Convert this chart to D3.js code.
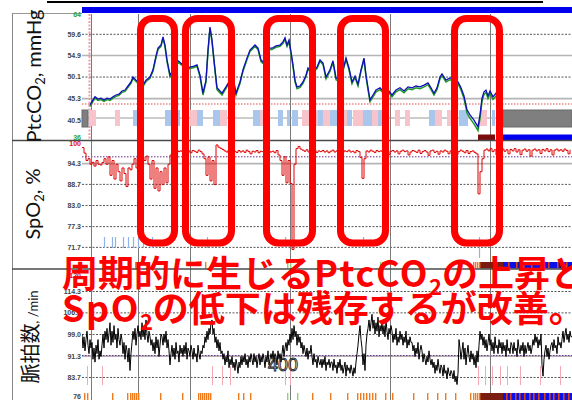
<!DOCTYPE html>
<html><head><meta charset="utf-8">
<script src="https://cdn.jsdelivr.net/npm/d3@7"></script>
<style>body{margin:0;background:#fff}svg{display:block}</style>
</head><body>
<svg id="chart" width="572" height="400"></svg>
<script>
// ---------- recorded data (time in minutes from start of trace) ----------
const ptcTime = [8,11,13,16,19,22,25,28,31,34,37,40,43,46,49,51,54,57,61,64,68,71,74,76,79,81,83,85,88,92,96,100,104,108,112,115,118,121,124,126,128,130,132,135,140,144,148,151,154,158,161,165,168,173,176,179,181,183,186,190,194,198,201,203,205,207,209,211,213,215,218,221,224,226,230,235,238,241,244,248,251,254,258,261,264,267,270,273,276,279,282,284,286,288,291,294,298,302,306,310,314,318,322,326,330,334,338,342,346,349,352,355,358,360,364,368,372,376,379,382,385,388,392,396,398,400,402,404,406,408,411,414,418];
const ptcBlue = [43.8,44.9,45.6,45.1,45.3,44.9,45.3,45.1,45.6,46.0,46.2,46.9,47.1,48.0,48.9,50.0,49.3,48.7,48.2,49.3,50.0,51.6,54.7,56.4,57.1,58.9,57.1,53.8,50.4,52.0,53.6,52.9,52.0,52.2,52.4,52.7,50.4,46.4,49.3,56.0,61.1,58.2,53.8,47.6,46.4,47.8,49.3,50.0,46.4,48.9,51.6,54.2,56.0,57.1,56.4,53.8,53.3,54.9,56.4,56.4,56.9,57.1,57.8,58.7,57.1,58.2,55.6,52.7,49.3,47.8,48.0,48.9,50.4,52.0,51.1,52.2,53.8,53.1,50.0,51.6,53.6,49.8,49.3,51.6,54.2,52.0,48.9,50.2,48.4,51.6,54.2,50.4,47.6,44.9,46.0,47.1,47.6,46.7,47.1,46.0,47.1,47.6,46.9,47.8,47.6,48.0,47.8,48.2,48.7,47.6,46.4,47.6,50.0,50.7,49.3,49.8,49.6,48.9,47.6,45.8,42.7,41.6,40.4,38.9,41.6,45.3,46.7,47.1,45.8,46.9,45.6,46.4,45.8];
const ptcGreen = [43.5,44.6,45.3,44.8,45.0,44.6,45.0,44.8,45.3,45.7,45.9,46.6,46.8,47.7,48.6,49.7,49.0,48.4,47.9,49.0,49.7,51.3,54.3,56.1,56.8,58.6,56.7,53.4,50.1,51.7,53.3,52.6,51.7,51.9,52.1,52.4,50.1,46.0,48.9,55.6,60.8,57.8,53.4,47.2,46.0,47.5,49.0,49.7,46.0,48.6,51.3,53.9,55.7,56.8,56.1,53.4,53.0,54.6,56.1,56.1,56.6,56.8,57.5,58.4,56.8,57.9,55.2,52.3,48.9,47.4,47.7,48.6,50.1,51.7,50.8,51.9,53.5,52.8,49.6,51.3,53.3,49.4,48.9,51.3,53.9,51.6,48.5,49.9,48.0,51.3,53.9,50.0,47.2,44.5,45.6,46.7,47.2,46.3,46.7,45.6,46.7,47.2,46.5,47.4,47.2,47.6,47.4,47.8,48.3,47.2,46.0,47.2,49.6,50.3,48.9,49.4,49.2,48.5,47.1,45.2,42.0,40.8,39.6,38.1,40.8,44.6,46.1,46.6,45.2,46.3,45.0,45.8,45.2];

const spo2Step = 2;   // minutes between SpO2 samples
const spo2Values = [
  98.5,97,95,95.5,94,94.5,93.5,95,94,93.8,
  94.5,95.5,94,96,91,95,90,94,92,89.5,
  93,91.5,88,93,92.5,94,95.5,93,96.5,95.5,
  96,95,96.2,94,90,95,87.5,93,86.8,92,
  88.5,93,89,94,96.5,97.5,97.2,97.8,97.4,97.6,
  97.3,97.8,97.4,97.6,97.1,97.7,97.5,97.2,97.8,97.4,
  96.8,95.5,91,96,89.5,95,88.5,99.2,98.6,98.3,
  98,97.6,97.3,97.8,97.4,96.9,97.5,97.2,97.7,97.3,
  97.6,97.2,97.8,97.4,96.8,97.5,97.3,97.7,97.1,97.5,
  97.4,97.8,97.2,97.6,97.3,97.5,97.1,97.7,96.5,95,
  91,96,89,95,88.8,71,94,98.2,98.8,98.1,
  97.8,97.5,97.9,97.3,97.7,97.4,97.8,97.2,97.6,97.4,
  97.7,97.3,97.6,97.1,97.5,97.8,97.3,97.6,97.4,97.7,
  97.2,97.6,97.4,97.8,97.3,97.5,97.1,97.7,97.4,95.8,
  90.2,95.5,97.6,97.3,97.8,97.5,97.2,97.7,97.4,97.6,
  97.3,97.8,97.4,96.6,97.5,97.7,97.3,97.6,96.8,97.5,
  97.8,97.4,97.6,96.5,97.3,97.7,97.5,97.2,97.8,96.9,
  97.4,97.7,97.3,96.4,97.6,97.8,97.2,97.5,96.7,97.6,
  97.3,97.8,97.5,96.8,97.6,97.2,97.7,96.6,97.4,97.8,
  97.5,97.1,97.7,96.9,97.4,97.6,97.2,96.8,86,92,
  95.5,97.8,98.1,97.6,98.2,97.4,97.9,96.5,98,97.7,
  98.1,97.5,97.9,96.8,98,97.6,98.2,97.3,97.9,96.6,
  97.8,98.1,97.5,97.9,96.2,97.8,98.1,97.6,97.9,96.9,
  98,97.6,98.2,97.4,97.9,96.5,97.8,98.1,97.6,97.9,
  97.5,98.1,97.7,96.8,97.9];

const pulseStep = 1;  // minutes between pulse samples
const pulseValues = [
  99,94,98,93,97,100,95,92,97,94, 96,90,94,89,95,92,97,90,93,91,
  95,99,94,100,97,101,96,99,103,95, 100,96,102,97,99,94,101,97,95,99,
  97,92,96,90,95,93,89,94,86,92, 96,100,97,101,95,99,102,98,100,97,
  103,98,101,97,104,99,96,100,98,95, 97,93,96,92,98,94,97,91,95,99,
  98,95,99,96,100,94,97,93,88,92, 95,91,94,90,96,92,93,89,95,92,
  94,91,95,92,96,90,94,93,91,95, 93,90,94,91,92,89,95,92,90,93,
  92,95,94,98,96,100,97,101,99,103, 104,99,101,96,98,94,97,93,96,92,
  93,90,92,88,91,89,93,87,90,88, 91,87,89,86,90,88,85,89,87,91,
  88,91,89,92,88,90,87,91,89,92, 90,88,92,89,91,87,90,92,88,91,
  89,92,90,87,91,89,93,88,90,92, 90,93,89,92,91,88,93,90,92,89,
  92,95,91,94,96,93,97,95,99,96, 101,97,102,98,100,95,99,96,98,94,
  96,92,95,93,91,94,90,93,92,95, 91,88,92,89,90,87,91,89,88,90,
  87,90,88,91,86,89,88,90,87,89, 89,86,90,87,88,85,89,87,90,86,
  88,85,87,89,84,88,86,87,85,88, 86,84,87,85,89,92,95,99,102,97,
  94,88,92,86,95,99,101,104,100,103, 106,101,104,99,103,100,105,98,102,100,
  103,99,102,98,104,100,97,101,99,102, 100,96,99,97,101,95,98,96,100,97,
  99,95,98,96,100,94,97,95,98,96, 96,93,95,91,94,92,96,90,93,95,
  93,89,92,90,88,91,89,93,90,88, 90,87,89,85,88,86,90,87,85,88,
  87,84,88,85,86,83,87,85,84,86, 85,83,86,82,84,81,85,97,94,90,
  93,96,90,94,88,92,95,91,89,93, 90,92,88,91,87,93,89,95,100,97,
  99,95,98,94,97,93,96,99,95,97, 93,96,92,98,94,95,92,97,94,96,
  92,96,93,95,91,97,93,94,92,96, 95,92,96,93,94,91,97,94,92,95,
  93,96,91,95,92,94,96,93,95,92, 94,97,95,99,96,98,94,97,95,99,
  88,84,90,93,95,91,94,90,93,95, 96,93,97,94,95,92,98,95,96,94,
  97,100,96,99,101,97,99,96,100,98, 98];

// axis tick labels as printed on the monitor
const ptcTicks = ['64','59.6','54.9','50.1','45.3','40.5','36'];
const spo2Ticks = ['100','94.3','88.7','83.0','77.3','71.7'];
const pulseTicks = ['120','114.3','106.7','99.0','91.3','83.7','76'];

const ptcAlarm = 44.0;     // PtcCO2 lower reference line
const spo2Ref = 96.0;      // SpO2 reference line
const pulseRef = 91.3;     // pulse reference line

const timeGrid = [9, 56, 108, 208, 308, 408];

// event markers shown in the PtcCO2 band: [start, end, kind]
const eventBands = [[0,6,'g'],[7,14,'p'],[33,38,'p'],[51,56,'b'],[83,98,'b'],[108,115,'p'],[115,121,'b'],
  [131,138,'b'],[138,145,'p'],[171,178,'b'],[178,181,'p'],[196,201,'b'],[205,208,'b'],[210,216,'b'],
  [220,236,'p'],[236,241,'b'],[241,248,'p'],[248,255,'b'],[255,265,'p'],[265,270,'b'],[271,281,'p'],
  [281,290,'b'],[290,296,'p'],[296,301,'b'],[313,318,'p'],[323,328,'p'],[347,353,'b'],[353,360,'p'],
  [365,370,'p'],[377,386,'b'],[398,405,'p'],[410,413,'b'],[421,490,'g']];
const statusSegments = [[396,413,'#7a0c0c'],[421,490,'#0000ee']];

const desatMarks = [22,30,33,41,46,51,56,61,70,125,203,281];
const desatLong = [397];
const pulseMarks = [5,20,130,140,148,203,208,396,403,410,418,425,438,458,478];

const rhythmTop = {orange:[53,54,55,56,123,300,391,393,395,397], green:[205,208,298], dark:[398,421], blue:[421,490],
  blueTicks:[426,434,441,449,458,466,475,484]};
const rhythmBottom = {orange:[2,5,30,45,48,50,52,54,56,78,100,116,118,120,122,124,126,128,156,161,168,230,248,265,275,278,281,284,287,290,293,303,310,331,345,355,363,373,388,391,393,395,397],
  green:[205,215], dark:[398,421], blue:[421,490],
  blueTicks:[424,428,433,437,442,447,451,456,462,467,471,476,481,486]};

const highlightRanges = [[55,96],[100,153],[181,234],[255,307],[369,421]];

// ---------- scales ----------
const svg = d3.select('#chart');
const x = d3.scaleLinear().domain([0,490]).range([82,572]);
const yPtc = d3.scaleLinear().domain([36,64]).range([140,14]);
const ySpo = d3.scaleLinear().domain([66,100]).range([268,142]);
const yPul = d3.scaleLinear().domain([76,120]).range([398.6,275]);

// clip regions per panel
const defs = svg.append('defs');
[['cPtc',14,127],['cSpo',141,128],['cPul',269,131]].forEach(([id,y0,h]) => {
  defs.append('clipPath').attr('id', id).append('rect').attr('x',82).attr('y',y0).attr('width',490).attr('height',h);
});

// ---------- frame ----------
svg.append('line').attr('x1',47).attr('x2',543).attr('y1',2).attr('y2',2).attr('stroke','#000').attr('stroke-width',2.2);
svg.append('rect').attr('x',x(0)).attr('y',7).attr('width',x(490)-x(0)).attr('height',6).attr('fill','#0000ee');
svg.append('line').attr('x1',12).attr('x2',82).attr('y1',13.5).attr('y2',13.5).attr('stroke','#999');
svg.append('line').attr('x1',12.5).attr('x2',12.5).attr('y1',13).attr('y2',400).attr('stroke','#888');

// ---------- horizontal gridlines ----------
function hGrid(scale, ticks, solid, purple) {
  const g = svg.append('g').attr('transform','translate(82,0)')
    .call(d3.axisLeft(scale).tickValues(ticks).tickSize(-490).tickFormat(''));
  g.select('.domain').remove();
  g.selectAll('.tick line').each(function(d) {
    const l = d3.select(this);
    if (solid.includes(d)) l.attr('stroke','#b5b5b5').attr('stroke-width',1.6);
    else l.attr('stroke','#555').attr('stroke-width',1).attr('stroke-dasharray','2,1.5');
  });
  if (purple !== undefined) {
    svg.append('line').attr('x1',x(0)).attr('x2',x(490)).attr('y1',scale(purple)).attr('y2',scale(purple))
      .attr('stroke','#6b2c8c').attr('stroke-width',1).attr('stroke-dasharray','1.5,1.5');
  }
}
hGrid(yPtc, [59.6,54.9,50.1,45.3], [54.9,45.3]);
hGrid(ySpo, [94.3,88.7,83.0,77.3,71.7], [94.3], spo2Ref);
hGrid(yPul, [114.3,106.7,99.0,91.3,83.7], [91.3], pulseRef);

// PtcCO2 lower reference (dotted red)
svg.append('line').attr('x1',x(0)).attr('x2',x(490)).attr('y1',yPtc(ptcAlarm)).attr('y2',yPtc(ptcAlarm))
  .attr('stroke','#e34a4a').attr('stroke-width',1).attr('stroke-dasharray','1.5,1.5');

// ---------- vertical gridlines ----------
svg.append('g').selectAll('line').data(timeGrid).join('line')
  .attr('x1',d=>x(d)+0.5).attr('x2',d=>x(d)+0.5).attr('y1',14).attr('y2',400)
  .attr('stroke','#7a7a7a').attr('stroke-width',1);
svg.append('line').attr('x1',x(8)-0.5).attr('x2',x(8)-0.5).attr('y1',14).attr('y2',140)
  .attr('stroke','#f09aa6').attr('stroke-width',2).attr('stroke-dasharray','2,1.5');

// ---------- PtcCO2 event band ----------
const bandG = svg.append('g');
bandG.append('line').attr('x1',x(0)).attr('x2',x(421)).attr('y1',118).attr('y2',118).attr('stroke','#9a9a9a');
bandG.selectAll('rect').data(eventBands).join('rect')
  .attr('x',d=>x(d[0])).attr('width',d=>x(d[1])-x(d[0]))
  .attr('y',110).attr('height',d=>d[2]==='g'?17:16)
  .attr('fill',d=>d[2]==='g'?'#7f7f7f':d[2]==='p'?'#f8c4cc':'#a9c6ec')
  .attr('stroke',d=>d[2]==='g'?'#6a6a6a':'none');
svg.append('g').selectAll('rect').data(statusSegments).join('rect')
  .attr('x',d=>x(d[0])).attr('width',d=>x(d[1])-x(d[0])).attr('y',134.5).attr('height',6)
  .attr('fill',d=>d[2]);

// ---------- PtcCO2 traces ----------
const ptcLine = d3.line().x((d,i)=>x(ptcTime[i])).y(d=>yPtc(d));
svg.append('path').datum(ptcGreen).attr('clip-path','url(#cPtc)')
  .attr('d',ptcLine).attr('fill','none').attr('stroke','#1d9a24').attr('stroke-width',1.5);
svg.append('path').datum(ptcBlue).attr('clip-path','url(#cPtc)')
  .attr('d',ptcLine).attr('fill','none').attr('stroke','#1010b8').attr('stroke-width',1.3);

// ---------- SpO2 ----------
svg.append('g').selectAll('line').data(desatMarks).join('line')
  .attr('x1',d=>x(d)+0.5).attr('x2',d=>x(d)+0.5).attr('y1',237).attr('y2',248)
  .attr('stroke','#8fb3e6').attr('stroke-width',1.2);
svg.append('g').selectAll('line').data(desatLong).join('line')
  .attr('x1',d=>x(d)+0.5).attr('x2',d=>x(d)+0.5).attr('y1',237).attr('y2',258)
  .attr('stroke','#8fb3e6').attr('stroke-width',1.2);
const spoLine = d3.line().x((d,i)=>x(i*spo2Step)).y(d=>ySpo(d)).curve(d3.curveStepAfter);
svg.append('path').datum(spo2Values).attr('clip-path','url(#cSpo)')
  .attr('d',spoLine).attr('fill','none').attr('stroke','#e00000').attr('stroke-width',1);

// rhythm strips
function rhythm(r, y0, h) {
  const g = svg.append('g');
  g.append('rect').attr('x',x(r.dark[0])).attr('width',x(r.dark[1])-x(r.dark[0])).attr('y',y0).attr('height',h).attr('fill','#7b1c10');
  g.append('rect').attr('x',x(r.blue[0])).attr('width',x(r.blue[1])-x(r.blue[0])).attr('y',y0).attr('height',h).attr('fill','#0a10e6');
  g.selectAll('.o').data(r.orange).join('rect').attr('class','o')
    .attr('x',d=>x(d)).attr('width',1.4).attr('y',y0).attr('height',h).attr('fill','#f07a1e');
  g.selectAll('.gr').data(r.green).join('rect').attr('class','gr')
    .attr('x',d=>x(d)).attr('width',1.4).attr('y',y0).attr('height',h).attr('fill','#8fd07a');
  g.selectAll('.bt').data(r.blueTicks).join('rect').attr('class','bt')
    .attr('x',d=>x(d)).attr('width',1.6).attr('y',y0).attr('height',h).attr('fill','#d8401a');
}
rhythm(rhythmTop, 262, 6.5);
rhythm(rhythmBottom, 393, 7);

// ---------- Pulse ----------
svg.append('g').selectAll('line').data(pulseMarks).join('line')
  .attr('x1',d=>x(d)+0.5).attr('x2',d=>x(d)+0.5).attr('y1',366).attr('y2',385)
  .attr('stroke','#f2a9b3').attr('stroke-width',1);
const pulLine = d3.line().x((d,i)=>x(i*pulseStep)).y(d=>yPul(d));
svg.append('path').datum(pulseValues).attr('clip-path','url(#cPul)')
  .attr('d',pulLine).attr('fill','none').attr('stroke','#000').attr('stroke-width',1);
svg.append('text').attr('x',x(186)).attr('y',371).text('400')
  .attr('font-family','Liberation Sans, sans-serif').attr('font-size',18)
  .attr('fill','none').attr('stroke','#222').attr('stroke-width',0.9);

// panel separators
[140.5, 269].forEach(yy => svg.append('line').attr('x1',12).attr('x2',572).attr('y1',yy).attr('y2',yy)
  .attr('stroke','#4a4a4a').attr('stroke-width',1.3));

// ---------- tick labels ----------
function labels(scale, ticks, colorOf, nudge) {
  const vals = ticks.map(Number);
  const g = svg.append('g').attr('transform','translate(81,0)')
    .call(d3.axisLeft(scale).tickValues(vals).tickSize(0).tickPadding(0)
      .tickFormat((d,i)=>ticks[i]));
  g.select('.domain').remove();
  g.selectAll('text').attr('font-family','Liberation Sans, Arial, sans-serif').attr('font-size',7)
    .attr('font-weight','bold').attr('fill',(d,i)=>colorOf(ticks[i]))
    .attr('dy',(d,i)=>(nudge[ticks[i]]||0)+2.4);
}
labels(yPtc, ptcTicks, s=> (s==='64'||s==='36')?'#2ea02e':'#444', {'36':-3});
labels(ySpo, spo2Ticks, s=> s==='100'?'#e01010':'#444', {'100':1});
labels(yPul, pulseTicks, s=> s==='120'?'#b02020':'#444', {'76':-2.5});

// ---------- axis titles ----------
function title(cx, cy, parts) {
  const t = svg.append('text').attr('transform',`translate(${cx},${cy}) rotate(-90)`)
    .attr('text-anchor','middle').attr('font-family','Lato, "Noto Sans CJK JP", sans-serif').attr('fill','#111');
  parts.forEach(p => t.append('tspan').text(p.t).attr('font-size',p.s).attr('dy',p.dy||0));
}
title(41, 76, [{t:'PtcCO',s:20},{t:'2',s:13,dy:4},{t:', mmHg',s:20,dy:-4}]);
title(40, 204, [{t:'SpO',s:20},{t:'2',s:13,dy:4},{t:', %',s:20,dy:-4}]);
title(38, 337, [{t:'脈拍数',s:20},{t:', /min',s:13}]);

// ---------- highlight boxes ----------
svg.append('g').selectAll('rect').data(highlightRanges).join('rect')
  .attr('x',d=>x(d[0])+3.5).attr('width',d=>x(d[1])-x(d[0])-7)
  .attr('y',18.5).attr('height',224.5).attr('rx',12).attr('ry',12)
  .attr('fill','none').attr('stroke','#ff0000').attr('stroke-width',7);

// ---------- caption ----------
const cap = svg.append('g').attr('font-family','"Noto Sans CJK JP", sans-serif').attr('font-weight',700).attr('fill','#ff0000');
const l1 = cap.append('text').attr('x',62).attr('y',287).attr('font-size',36);
l1.append('tspan').text('周期的に生じる');
l1.append('tspan').text('PtcCO').attr('letter-spacing',1.5);
l1.append('tspan').text('2').attr('font-size',22).attr('dy',8);
l1.append('tspan').text('の上昇と').attr('dy',-8);
const l2 = cap.append('text').attr('x',62).attr('y',322).attr('font-size',36);
l2.append('tspan').text('SpO').attr('letter-spacing',1.5);
l2.append('tspan').text('2').attr('font-size',22).attr('dy',8);
l2.append('tspan').text('の低下は残存するが改善。').attr('dy',-8);
</script>
</body></html>
